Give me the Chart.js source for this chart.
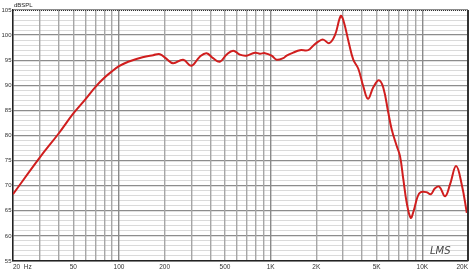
<!DOCTYPE html>
<html>
<head>
<meta charset="utf-8">
<script src="https://cdn.jsdelivr.net/npm/chart.js@4"></script>
<style>
  html, body { margin: 0; padding: 0; background: #fff; }
  #wrap { width: 475px; height: 275px; }
</style>
</head>
<body>
<div id="wrap"><canvas id="fr-chart"></canvas></div>
<script>
// frequency response
var freqHz = [20, 30, 40, 50, 60, 70, 80, 90, 100, 115, 143, 168, 186, 205, 227, 265, 300, 341, 378, 417, 462, 511, 566, 626, 693, 787, 849, 916, 1014, 1094, 1209, 1274, 1408, 1559, 1768, 1906, 2059, 2221, 2433, 2654, 2894, 3011, 3280, 3504, 3782, 4079, 4382, 4749, 5165, 5529, 5967, 6282, 6777, 7125, 7490, 7888, 8382, 8750, 9300, 9760, 10690, 11364, 12132, 12951, 14128, 15238, 16693, 18200, 19640];
var splDb = [68.3, 75.6, 80.4, 84.4, 87.2, 89.7, 91.5, 92.8, 93.8, 94.7, 95.6, 96.0, 96.2, 95.3, 94.4, 95.1, 93.9, 95.7, 96.4, 95.4, 94.7, 96.1, 96.9, 96.1, 95.9, 96.5, 96.3, 96.4, 95.9, 95.1, 95.4, 95.9, 96.5, 97.0, 97.0, 97.9, 98.7, 99.1, 98.4, 100.0, 103.8, 103.0, 98.4, 95.1, 93.3, 89.8, 87.3, 89.6, 91.0, 89.5, 84.5, 81.2, 77.9, 75.9, 71.3, 66.6, 63.6, 64.9, 67.8, 68.7, 68.7, 68.3, 69.5, 69.8, 67.9, 70.3, 73.9, 70.2, 64.6];

var xTickValues = [20, 30, 40, 50, 60, 70, 80, 90, 100, 200, 300, 400, 500, 600, 700, 800, 900, 1000, 2000, 3000, 4000, 5000, 6000, 7000, 8000, 9000, 10000, 20000];
var xLabelValues = [20, 50, 100, 200, 500, 1000, 2000, 5000, 10000, 20000];
var xLabelTexts = ['20  Hz', '50', '100', '200', '500', '1K', '2K', '5K', '10K', '20K'];
var yMin = 55, yMax = 105;

var points = freqHz.map(function(f, i) { return { x: f, y: splDb[i] }; });

var frame = {
    id: 'frame',
    afterDraw: function(chart) {
        var c = chart.ctx, a = chart.chartArea;
        c.save();
        // dotted top edge
        c.strokeStyle = '#333';
        c.lineWidth = 1;
        c.setLineDash([1, 1]);
        c.beginPath();
        c.moveTo(a.left, a.top + 0.5);
        c.lineTo(a.right, a.top + 0.5);
        c.stroke();
        c.setLineDash([]);
        // heavy right edge
        c.lineWidth = 2;
        c.beginPath();
        c.moveTo(a.right, a.top);
        c.lineTo(a.right, a.bottom);
        c.stroke();
        // unit label and logo
        c.fillStyle = '#222';
        c.font = '6px "Liberation Sans", Arial, sans-serif';
        c.textBaseline = 'middle';
        c.fillText('dBSPL', a.left + 1, 5);
        c.fillStyle = '#444';
        c.font = 'italic 10px "DejaVu Sans", sans-serif';
        c.textBaseline = 'alphabetic';
        c.fillText('LMS', a.right - 38, a.bottom - 7);
        c.restore();
    }
};

var ctx = document.getElementById('fr-chart');
var myChart = new Chart(ctx, {
    type: 'line',
    data: {
        datasets: [{
            data: points,
            borderColor: 'rgb(208, 30, 30)',
            borderWidth: 2,
            pointRadius: 0,
            tension: 0.4,
            fill: false
        }]
    },
    options: {
        responsive: true,
        maintainAspectRatio: false,
        animation: false,
        layout: { padding: { top: 10, right: 7, left: 0, bottom: 0 } },
        plugins: { legend: { display: false }, tooltip: { enabled: false } },
        scales: {
            x: {
                type: 'logarithmic',
                min: 20,
                max: 20000,
                afterBuildTicks: function(scale) {
                    scale.ticks = xTickValues.map(function(v) { return { value: v }; });
                },
                afterFit: function(scale) { scale.height = 14; },
                ticks: {
                    autoSkip: false,
                    maxRotation: 0,
                    align: 'inner',
                    padding: 2,
                    color: '#333',
                    font: { size: 6.5, family: '"Liberation Sans", Arial, sans-serif' },
                    callback: function(v) {
                        var i = xLabelValues.indexOf(v);
                        return i >= 0 ? xLabelTexts[i] : '';
                    }
                },
                grid: {
                    z: -1,
                    drawTicks: false,
                    color: function(c) {
                        var v = c.tick ? c.tick.value : 0;
                        return (v === 100 || v === 1000 || v === 10000) ? '#8a8a8a' : '#a6a6a6';
                    },
                    lineWidth: 1.4
                },
                border: { display: true, color: '#222', width: 1.5 }
            },
            y: {
                min: yMin,
                max: yMax,
                afterBuildTicks: function(scale) {
                    var t = [];
                    for (var v = yMin; v <= yMax; v++) t.push({ value: v });
                    scale.ticks = t;
                },
                afterFit: function(scale) { scale.width = 13; },
                ticks: {
                    autoSkip: false,
                    padding: 1.5,
                    color: '#333',
                    font: { size: 6, family: '"Liberation Sans", Arial, sans-serif' },
                    callback: function(v) { return v % 5 === 0 ? String(v) : ''; }
                },
                grid: {
                    z: -2,
                    drawTicks: false,
                    color: function(c) {
                        var v = c.tick ? c.tick.value : 0;
                        return v % 5 === 0 ? '#8c8c8c' : '#dadada';
                    },
                    lineWidth: function(c) {
                        var v = c.tick ? c.tick.value : 0;
                        return v % 5 === 0 ? 1.2 : 1;
                    }
                },
                border: { display: true, color: '#222', width: 1.5 }
            }
        }
    },
    plugins: [frame]
});
</script>
</body>
</html>
